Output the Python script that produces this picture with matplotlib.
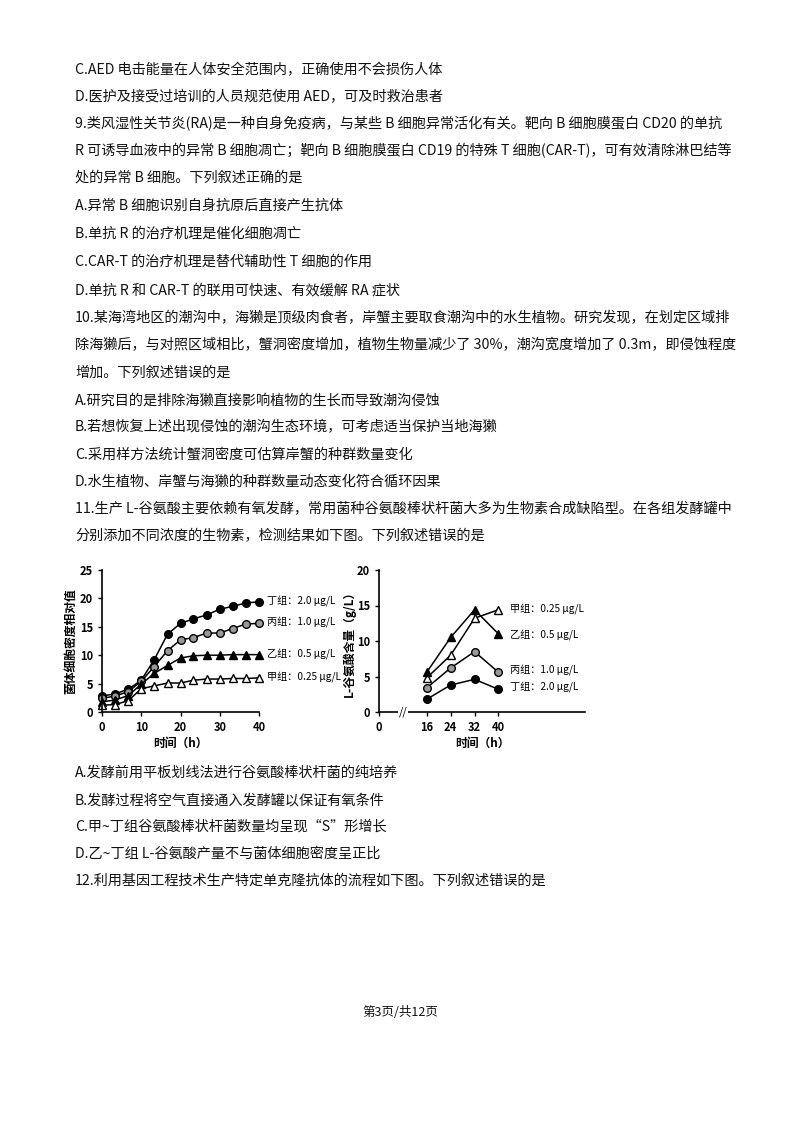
import matplotlib
matplotlib.use("Agg")
import matplotlib.pyplot as plt

plt.rcParams['font.family'] = ['Noto Sans CJK SC', 'DejaVu Sans']

# ---- data ----
t_left = [0, 3.3, 6.7, 10, 13.3, 16.7, 20, 23.3, 26.7, 30, 33.3, 36.7, 40]
ding_l = [2.8, 3.2, 4.0, 5.6, 9.2, 13.7, 15.6, 16.4, 17.1, 18.1, 18.6, 19.2, 19.4]
bing_l = [2.4, 2.8, 3.6, 5.4, 8.0, 10.8, 12.7, 13.1, 13.9, 13.9, 14.7, 15.5, 15.6]
yi_l = [1.8, 2.1, 2.9, 4.9, 6.8, 8.2, 9.5, 9.9, 10.0, 10.0, 10.1, 10.1, 10.1]
jia_l = [1.2, 1.3, 2.0, 4.1, 4.6, 5.1, 5.1, 5.6, 5.8, 5.8, 5.9, 5.9, 6.0]

t_right = [16, 24, 32, 40]
jia_r = [4.8, 8.0, 13.2, 14.4]
yi_r = [5.6, 10.5, 14.4, 11.0]
bing_r = [3.4, 6.2, 8.5, 5.6]
ding_r = [1.8, 3.8, 4.6, 3.2]

left_labels = [("丁组：2.0 μg/L", 19.4), ("丙组：1.0 μg/L", 15.8),
               ("乙组：0.5 μg/L", 10.2), ("甲组：0.25 μg/L", 6.0)]
right_labels = [("甲组：0.25 μg/L", 14.4), ("乙组：0.5 μg/L", 10.8),
                ("丙组：1.0 μg/L", 5.9), ("丁组：2.0 μg/L", 3.5)]

W, H = 800, 1132
fig = plt.figure(figsize=(8, 11.32), dpi=100)

lines_top = [
    (70, "C.AED 电击能量在人体安全范围内，正确使用不会损伤人体"),
    (97, "D.医护及接受过培训的人员规范使用 AED，可及时救治患者"),
    (124, "9.类风湿性关节炎(RA)是一种自身免疫病，与某些 B 细胞异常活化有关。靶向 B 细胞膜蛋白 CD20 的单抗"),
    (151, "R 可诱导血液中的异常 B 细胞凋亡；靶向 B 细胞膜蛋白 CD19 的特殊 T 细胞(CAR-T)，可有效清除淋巴结等"),
    (178, "处的异常 B 细胞。下列叙述正确的是"),
    (206, "A.异常 B 细胞识别自身抗原后直接产生抗体"),
    (234, "B.单抗 R 的治疗机理是催化细胞凋亡"),
    (262, "C.CAR-T 的治疗机理是替代辅助性 T 细胞的作用"),
    (290, "D.单抗 R 和 CAR-T 的联用可快速、有效缓解 RA 症状"),
    (318, "10.某海湾地区的潮沟中，海獭是顶级肉食者，岸蟹主要取食潮沟中的水生植物。研究发现，在划定区域排"),
    (345, "除海獭后，与对照区域相比，蟹洞密度增加，植物生物量减少了 30%，潮沟宽度增加了 0.3m，即侵蚀程度"),
    (373, "增加。下列叙述错误的是"),
    (400, "A.研究目的是排除海獭直接影响植物的生长而导致潮沟侵蚀"),
    (427, "B.若想恢复上述出现侵蚀的潮沟生态环境，可考虑适当保护当地海獭"),
    (455, "C.采用样方法统计蟹洞密度可估算岸蟹的种群数量变化"),
    (482, "D.水生植物、岸蟹与海獭的种群数量动态变化符合循环因果"),
    (509, "11.生产 L-谷氨酸主要依赖有氧发酵，常用菌种谷氨酸棒状杆菌大多为生物素合成缺陷型。在各组发酵罐中"),
    (536, "分别添加不同浓度的生物素，检测结果如下图。下列叙述错误的是"),
    (773, "A.发酵前用平板划线法进行谷氨酸棒状杆菌的纯培养"),
    (800, "B.发酵过程将空气直接通入发酵罐以保证有氧条件"),
    (827, "C.甲~丁组谷氨酸棒状杆菌数量均呈现“S”形增长"),
    (854, "D.乙~丁组 L-谷氨酸产量不与菌体细胞密度呈正比"),
    (881, "12.利用基因工程技术生产特定单克隆抗体的流程如下图。下列叙述错误的是"),
]
for y, s in lines_top:
    fig.text(75 / W, 1 - y / H, s, fontsize=10.2, va='center', ha='left', color='#111')
fig.text(0.5, 1 - 1013 / H, "第3页/共12页", fontsize=9, va='center', ha='center', color='#111')

def style(ax):
    for s in ['top', 'right']:
        ax.spines[s].set_visible(False)
    for s in ['left', 'bottom']:
        ax.spines[s].set_linewidth(1.2)
    ax.tick_params(labelsize=8, width=1, length=3)
    for lab in ax.get_xticklabels() + ax.get_yticklabels():
        lab.set_fontweight('bold')

mk = dict(markersize=5.5, linewidth=1.1, color='black')
# left chart
axL = fig.add_axes([102 / W, 1 - 712 / H, 157 / W, 142 / H])
axL.plot(t_left, ding_l, marker='o', markerfacecolor='black', **mk)
axL.plot(t_left, bing_l, marker='o', markerfacecolor='#999', **mk)
axL.plot(t_left, yi_l, marker='^', markerfacecolor='black', **mk)
axL.plot(t_left, jia_l, marker='^', markerfacecolor='white', **mk)
axL.set_xlim(0, 40)
axL.set_ylim(0, 25)
axL.set_xticks([0, 10, 20, 30, 40])
axL.set_yticks([0, 5, 10, 15, 20, 25])
for ln in axL.lines:
    ln.set_clip_on(False)
style(axL)
axL.set_xlabel("时间（h）", fontsize=8.5, fontweight='bold', labelpad=2)
axL.set_ylabel("菌体细胞密度相对值", fontsize=8.5, fontweight='bold', labelpad=2)
for s, v in left_labels:
    axL.text(42, v, s, fontsize=7.3, va='center', ha='left', clip_on=False)

# right chart
axR = fig.add_axes([379 / W, 1 - 712 / H, 206 / W, 142 / H])
axR.plot(t_right, jia_r, marker='^', markerfacecolor='white', **mk)
axR.plot(t_right, yi_r, marker='^', markerfacecolor='black', **mk)
axR.plot(t_right, bing_r, marker='o', markerfacecolor='#999', **mk)
axR.plot(t_right, ding_r, marker='o', markerfacecolor='black', **mk)
for ln in axR.lines:
    ln.set_clip_on(False)
axR.set_xlim(0, 69)
axR.set_ylim(0, 20)
axR.set_xticks([0, 16, 24, 32, 40])
axR.set_yticks([0, 5, 10, 15, 20])
style(axR)
axR.text(8, 0, "//", fontsize=8, ha='center', va='center',
         bbox=dict(facecolor='white', edgecolor='none', pad=0.5))
axR.set_xlabel("时间（h）", fontsize=8.5, fontweight='bold', labelpad=2)
axR.set_ylabel("L-谷氨酸含量（g/L）", fontsize=8.5, fontweight='bold', labelpad=1)
for s, v in right_labels:
    axR.text(44, v, s, fontsize=7.3, va='center', ha='left', clip_on=False)

fig.savefig("out.png", dpi=100, facecolor='white')
